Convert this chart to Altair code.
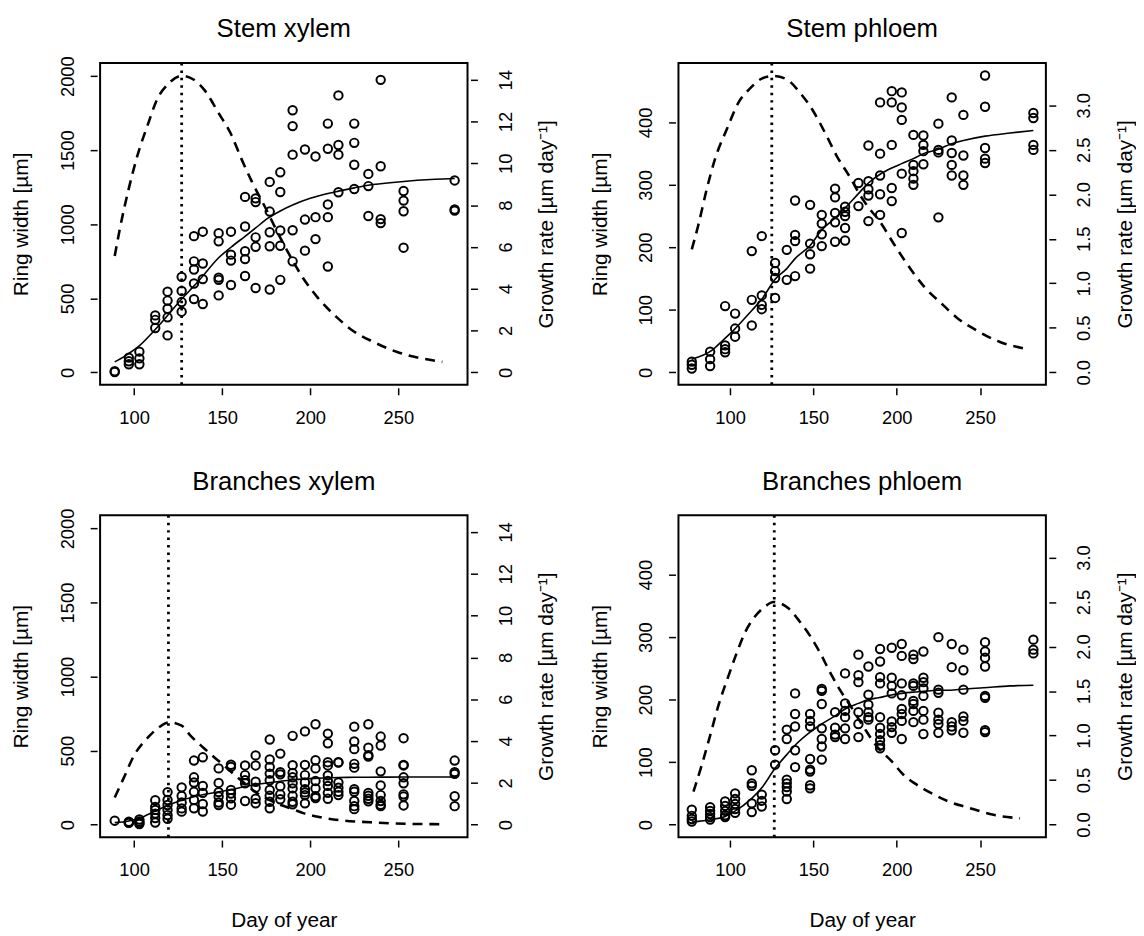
import altair as alt
import pandas as pd

FONT = "Liberation Sans"
W, H = 371, 325

# ---------------- Stem xylem ----------------
sx_days = [89, 97, 103, 112, 119, 127, 134, 139, 148, 155, 163, 169, 177, 183,
           190, 197, 203, 210, 216, 225, 233, 240, 253, 282]
sx_vals = [[8, 3], [100, 75, 55], [140, 95, 55], [385, 355, 300],
           [545, 485, 430, 372, 250], [645, 550, 475, 410],
           [920, 750, 695, 600, 495], [950, 735, 630, 462],
           [940, 885, 640, 625, 520], [950, 795, 755, 590],
           [1185, 985, 818, 765, 651], [1175, 1150, 912, 848, 570],
           [1286, 1086, 946, 852, 560], [1351, 1218, 958, 855, 625],
           [1770, 1663, 1470, 960, 750], [1505, 1032, 822], [1458, 1048, 900],
           [1680, 1510, 1134, 1048, 715], [1870, 1535, 1470, 1216],
           [1680, 1550, 1402, 1238], [1340, 1258, 1056], [1975, 1392, 1035, 1008],
           [1225, 1160, 1088, 842], [1296, 1100, 1092]]
sx_fit_days = [89, 95, 102, 112, 118, 127, 134, 139, 148, 155, 163, 169, 176, 183,
               190, 200, 210, 216, 225, 233, 250, 271, 282]
sx_fit_vals = [71, 112, 170, 290, 370, 495, 584, 651, 774, 845, 919, 975, 1041, 1090,
               1130, 1175, 1208, 1224, 1246, 1264, 1286, 1304, 1309]
sx_rate_days = [89, 92, 97, 102, 108, 113, 119, 127, 134, 140, 148, 155, 161, 167,
                175, 182, 189, 196, 204, 215, 224, 236, 249, 262, 275]
sx_rate_vals = [5.56, 6.9, 8.8, 10.4, 11.9, 13.05, 13.76, 14.19, 14.0, 13.5, 12.4,
                11.4, 10.2, 9.1, 7.8, 6.6, 5.5, 4.5, 3.6, 2.64, 2.0, 1.45, 0.98,
                0.69, 0.5]
sx_peak = 127

# ---------------- Stem phloem ----------------
sp_days = [77, 88, 97, 103, 113, 119, 127, 134, 139, 148, 155, 163, 169, 177, 183,
           190, 197, 203, 210, 216, 225, 233, 240, 253, 282]
sp_vals = [[17, 12, 6], [33, 21, 10], [106, 43, 37, 32], [94, 70, 57],
           [194, 116, 75], [218, 123, 108, 101], [175, 162, 151, 119], [196, 148],
           [275, 220, 210, 154], [268, 206, 189, 166], [252, 238, 221, 202],
           [294, 280, 255, 240, 209], [265, 257, 250, 231, 211], [303, 266],
           [363, 306, 293, 283, 242], [432, 350, 315, 285, 252],
           [450, 432, 364, 295, 274], [448, 424, 404, 318, 223],
           [380, 332, 322, 310, 300], [379, 364, 354, 333], [398, 356, 352, 248],
           [440, 371, 351, 332, 315], [412, 347, 315, 300],
           [475, 425, 359, 342, 335], [415, 407, 364, 356]]
sp_fit_days = [77, 89, 96, 102, 113, 119, 127, 134, 139, 148, 155, 163, 169, 177,
               183, 190, 197, 203, 210, 216, 225, 233, 240, 253, 268, 282]
sp_fit_vals = [21, 35, 52, 67, 99, 117, 149, 166, 182, 203, 228, 247, 263, 286,
               303, 317, 327, 334, 342, 350, 357, 366, 371, 378, 383, 387]
sp_rate_days = [77, 81, 86, 91, 98, 105, 112, 119, 126, 134, 142, 150, 157, 164,
                172, 178, 184, 190, 198, 205, 217, 227, 237, 248, 262, 276]
sp_rate_vals = [1.38, 1.66, 2.06, 2.40, 2.73, 3.03, 3.19, 3.30, 3.33, 3.29, 3.14,
                2.93, 2.69, 2.43, 2.19, 1.99, 1.83, 1.69, 1.45, 1.25, 0.95, 0.77,
                0.60, 0.47, 0.34, 0.27]
sp_peak = 125

# ---------------- Branches xylem ----------------
bx_days = sx_days
bx_vals = [[27], [20, 15, 12], [35, 22, 12, 5], [165, 120, 100, 75, 45, 15],
           [220, 167, 133, 100, 65, 40], [252, 194, 150, 110, 88],
           [433, 320, 285, 222, 167, 111], [455, 262, 215, 140, 89],
           [380, 282, 220, 190, 150, 133], [405, 390, 235, 210, 178, 135],
           [400, 335, 300, 280, 160], [468, 400, 290, 250, 175, 145],
           [575, 440, 390, 345, 300, 235, 195, 155, 111],
           [480, 355, 340, 260, 205, 172],
           [600, 402, 350, 320, 280, 245, 195, 155, 138],
           [630, 404, 335, 285, 240, 218, 200, 144],
           [678, 435, 380, 295, 245, 192, 180],
           [615, 550, 422, 400, 333, 295, 262, 215, 175],
           [422, 420, 285, 250, 222, 200],
           [662, 562, 510, 411, 385, 240, 222, 160, 125, 105],
           [678, 520, 470, 460, 215, 195, 175, 158],
           [595, 535, 360, 265, 200, 160, 135, 125],
           [584, 404, 400, 320, 280, 205, 190, 130], [433, 355, 343, 192, 125]]
bx_fit_days = [89, 97, 103, 112, 119, 127, 134, 139, 148, 155, 163, 169, 177, 183,
               190, 200, 210, 216, 225, 240, 253, 282]
bx_fit_vals = [14, 25, 44, 92, 130, 165, 189, 202, 222, 236, 258, 272, 284, 293,
               304, 311, 316, 319, 320, 321, 322, 322]
bx_rate_days = [89, 94, 100, 108, 114, 120, 127, 132, 140, 150, 161, 170, 180, 191,
                196, 206, 219, 234, 245, 260, 275]
bx_rate_vals = [1.3, 2.21, 3.31, 4.18, 4.65, 4.89, 4.73, 4.26, 3.63, 2.9, 2.1, 1.5,
                1.05, 0.71, 0.55, 0.35, 0.19, 0.11, 0.06, 0.03, 0.02]
bx_peak = 119.5

# ---------------- Branches phloem ----------------
bp_days = sp_days
bp_vals = [[24, 14, 9, 5], [28, 22, 17, 12, 8], [37, 30, 22, 15, 12],
           [50, 41, 33, 25, 19], [87, 66, 62, 34, 20], [48, 38, 29], [119, 96],
           [152, 137, 72, 66, 60, 53, 41], [210, 177, 157, 119, 92],
           [177, 166, 157, 105, 88, 85, 63, 58],
           [217, 214, 193, 154, 137, 125, 104], [180, 155, 144, 140],
           [242, 194, 182, 172, 154, 137], [272, 239, 228, 180, 161, 140],
           [253, 208, 192, 180, 172, 168],
           [281, 261, 236, 226, 172, 155, 145, 135, 127, 122],
           [283, 235, 222, 210, 165, 156, 147],
           [289, 270, 226, 207, 185, 177, 166, 137],
           [272, 265, 226, 222, 198, 193, 182, 164],
           [277, 235, 228, 218, 206, 182, 168, 145],
           [300, 216, 211, 179, 168, 161, 147], [289, 252, 164, 157, 151],
           [280, 247, 216, 173, 166, 147],
           [292, 277, 267, 253, 206, 203, 151, 148], [296, 280, 274]]
bp_fit_days = [77, 89, 97, 102, 113, 119, 127, 134, 139, 148, 155, 163, 169, 177,
               183, 189, 196, 203, 210, 215, 225, 232, 240, 252, 268, 282]
bp_fit_vals = [4, 8, 13, 20, 42, 59, 90, 112, 127, 148, 161, 174, 185, 194, 200,
               203, 207, 210, 212, 213, 215, 215, 217, 219, 222, 223]
bp_rate_days = [78, 83, 88, 93, 99, 104, 109, 115, 121, 126, 135, 141, 148, 154,
                160, 166, 172, 180, 188, 197, 204, 211, 221, 231, 243, 258, 274]
bp_rate_vals = [0.37, 0.67, 1.0, 1.34, 1.67, 1.93, 2.16, 2.34, 2.45, 2.50, 2.43,
                2.30, 2.12, 1.93, 1.71, 1.51, 1.34, 1.1, 0.88, 0.71, 0.56, 0.46,
                0.35, 0.26, 0.19, 0.11, 0.07]
bp_peak = 126.5

x_ticks = [100, 150, 200, 250]
xyl_ticks = [0, 500, 1000, 1500, 2000]
phl_ticks = [0, 100, 200, 300, 400]
xyl_rate_ticks = [0, 2, 4, 6, 8, 10, 12, 14]
phl_rate_ticks = [0.0, 0.5, 1.0, 1.5, 2.0, 2.5, 3.0]


def pts_df(days, vals):
    rows = [{"day": d, "val": v} for d, vs in zip(days, vals) for v in vs]
    return pd.DataFrame(rows)


AX = dict(domain=False, grid=False, ticks=True, tickSize=7, tickWidth=1.5,
          tickColor="black", offset=3, labelFont=FONT, labelFontSize=18.5,
          labelColor="black", labelFlush=False, labelOverlap=False,
          titleFont=FONT, titleFontSize=21, titleFontWeight="normal",
          titleColor="black")


def make_panel(title, days, vals, fdays, fvals, rdays, rvals, peak, xdom, ldom,
               lticks, rdom, rticks, rfmt, xtitle):
    xkw = dict(AX, orient="bottom", values=x_ticks, format="d", labelPadding=23,
               labelBaseline="middle", labelAlign="center", labelAngle=0)
    if xtitle:
        xkw.update(title="Day of year", titleX=W / 2, titleY=81, titleAlign="center",
                   titleBaseline="middle", titleAngle=0)
    else:
        xkw.update(title=None)
    X = alt.X("day:Q", scale=alt.Scale(domain=xdom, nice=False, zero=False),
              axis=alt.Axis(**xkw))
    Yl = alt.Y("val:Q", scale=alt.Scale(domain=ldom, nice=False, zero=False),
               axis=alt.Axis(**dict(AX, orient="left", values=lticks, format="d",
                                    labelAngle=270, labelAlign="center",
                                    labelBaseline="middle", labelPadding=23,
                                    title="Ring width [µm]", titleAngle=270,
                                    titleX=-76, titleY=H / 2, titleAlign="center",
                                    titleBaseline="middle")))
    Yr = alt.Y("rate:Q", scale=alt.Scale(domain=rdom, nice=False, zero=False),
               axis=alt.Axis(**dict(AX, orient="right", values=rticks, format=rfmt,
                                    labelAngle=270, labelAlign="center",
                                    labelBaseline="middle", labelPadding=28,
                                    title="Growth rate [µm day⁻¹]", titleAngle=270,
                                    titleX=77, titleY=H / 2, titleAlign="center",
                                    titleBaseline="middle")))
    pts = alt.Chart(pts_df(days, vals)).mark_point(
        shape="circle", filled=False, size=72, strokeWidth=2.0, color="black",
        opacity=1).encode(x=X, y=Yl)
    fit = alt.Chart(pd.DataFrame({"day": fdays, "val": fvals})).mark_line(
        color="black", strokeWidth=1.6, interpolate="monotone").encode(x=X, y=Yl)
    rule = alt.Chart(pd.DataFrame({"day": [peak]})).mark_rule(
        color="black", strokeWidth=2.8, strokeDash=[2.5, 5]).encode(
        x=X, y=alt.value(0), y2=alt.value(H))
    ttl = alt.Chart(pd.DataFrame({"t": [title]})).mark_text(
        font=FONT, fontSize=26, align="center", baseline="alphabetic",
        color="black").encode(x=alt.value(W / 2), y=alt.value(-26), text="t:N")
    ring = alt.layer(pts, fit, rule, ttl)
    gr = alt.Chart(pd.DataFrame({"day": rdays, "rate": rvals})).mark_line(
        color="black", strokeWidth=2.6, strokeDash=[10, 7],
        interpolate="monotone").encode(x=X, y=Yr)
    return alt.layer(ring, gr).resolve_scale(y="independent").properties(
        width=W, height=H)


XD_X = [80.7, 289.3]
XD_P = [69.0, 289.5]
LD_X = [-84, 2089]
LD_P = [-20.1, 495.1]
RD_X = [-0.6, 14.8]
RD_P = [-0.141, 3.475]

p1 = make_panel("Stem xylem", sx_days, sx_vals, sx_fit_days, sx_fit_vals,
                sx_rate_days, sx_rate_vals, sx_peak, XD_X, LD_X, xyl_ticks, RD_X,
                xyl_rate_ticks, "d", False)
p2 = make_panel("Stem phloem", sp_days, sp_vals, sp_fit_days, sp_fit_vals,
                sp_rate_days, sp_rate_vals, sp_peak, XD_P, LD_P, phl_ticks, RD_P,
                phl_rate_ticks, ".1f", False)
p3 = make_panel("Branches xylem", bx_days, bx_vals, bx_fit_days, bx_fit_vals,
                bx_rate_days, bx_rate_vals, bx_peak, XD_X, LD_X, xyl_ticks, RD_X,
                xyl_rate_ticks, "d", True)
p4 = make_panel("Branches phloem", bp_days, bp_vals, bp_fit_days, bp_fit_vals,
                bp_rate_days, bp_rate_vals, bp_peak, XD_P, LD_P, phl_ticks, RD_P,
                phl_rate_ticks, ".1f", True)

chart = alt.concat(p1, p2, p3, p4, columns=2,
                   spacing={"row": 131.7, "column": 213},
                   bounds="flush").properties(
    padding={"left": 2, "top": 3, "right": 0, "bottom": 0},
    background="white").configure_view(stroke="black", strokeWidth=2)

chart.save("out.html", embed_options={"renderer": "svg", "actions": False})
